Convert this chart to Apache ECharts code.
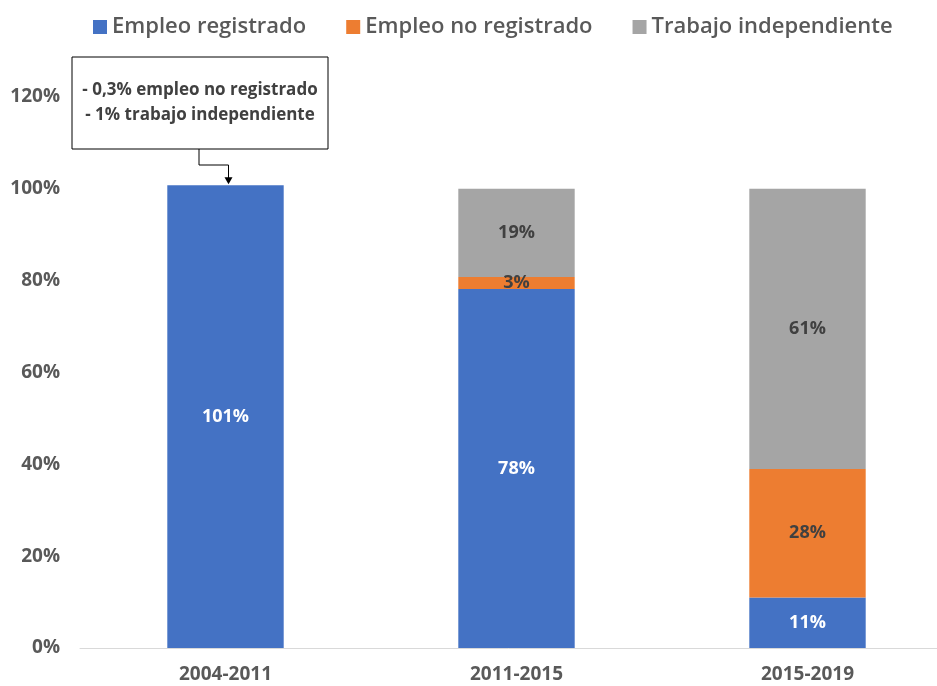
<!DOCTYPE html>
<html>
<head>
<meta charset="utf-8">
<script src="https://cdn.jsdelivr.net/npm/echarts@6/dist/echarts.min.js"></script>
<style>
html,body{margin:0;padding:0;background:#fff;}
#chart{width:937px;height:686px;}
</style>
</head>
<body>
<div id="chart"></div>
<script>
// periodos y aportes al crecimiento del empleo (%)
var periodos = ['2004-2011', '2011-2015', '2015-2019'];
var empleoRegistrado = [100.8, 78.2, 11];
var empleoNoRegistrado = [null, 2.6, 28];
var trabajoIndependiente = [null, 19.2, 61];
var ejeY = [0, 20, 40, 60, 80, 100, 120];
var nota = ['- 0,3% empleo no registrado', '- 1% trabajo independiente'];

var fuente = 'Open Sans';
var myChart = echarts.init(document.getElementById('chart'));

function etiqueta(color){
	return {
		show: true,
		position: 'inside',
		color: color,
		fontFamily: fuente,
		fontWeight: 'bold',
		fontSize: 18,
		formatter: function(p){ return Math.round(p.value) + '%'; }
	};
}

var option = {
	animation: false,
	color: ['#4472C4', '#ED7D31', '#A5A5A5'],
	legend: {
		top: 11,
		left: 88,
		itemWidth: 14,
		itemHeight: 14,
		itemGap: 40,
		icon: 'rect',
		textStyle: {
			color: '#595959',
			fontFamily: fuente,
			fontSize: 22,
			fontWeight: 600
		},
		data: ['Empleo registrado', 'Empleo no registrado', 'Trabajo independiente']
	},
	grid: {
		left: 80,
		top: 97,
		bottom: 38,
		width: 873,
		outerBoundsMode: 'none'
	},
	xAxis: {
		type: 'category',
		data: periodos,
		axisTick: {show: false},
		axisLine: {lineStyle: {color: '#d9d9d9', width: 1}},
		axisLabel: {
			color: '#595959',
			fontFamily: fuente,
			fontWeight: 'bold',
			fontSize: 19,
			margin: 17
		}
	},
	yAxis: {
		type: 'value',
		min: ejeY[0],
		max: ejeY[ejeY.length - 1],
		interval: ejeY[1] - ejeY[0],
		splitLine: {show: false},
		axisLine: {show: false},
		axisTick: {show: false},
		axisLabel: {
			color: '#595959',
			fontFamily: fuente,
			fontWeight: 'bold',
			fontSize: 19,
			margin: 20,
			formatter: '{value}%'
		}
	},
	series: [
		{
			name: 'Empleo registrado',
			type: 'bar',
			stack: 'total',
			barWidth: '40%',
			data: empleoRegistrado,
			label: etiqueta('#ffffff')
		},
		{
			name: 'Empleo no registrado',
			type: 'bar',
			stack: 'total',
			data: empleoNoRegistrado,
			label: etiqueta('#404040')
		},
		{
			name: 'Trabajo independiente',
			type: 'bar',
			stack: 'total',
			data: trabajoIndependiente,
			label: etiqueta('#404040')
		}
	]
};
myChart.setOption(option);

// recuadro con la nota y flecha hacia la primera barra
var tope = myChart.convertToPixel({gridIndex: 0}, [0, empleoRegistrado[0]]);
var caja = {x: 72, y: 57, w: 256, h: 92};
var xSal = 199, yCodo = 165;
myChart.setOption({
	graphic: [
		{
			type: 'rect',
			shape: {x: caja.x, y: caja.y, width: caja.w, height: caja.h},
			style: {fill: '#fff', stroke: '#000', lineWidth: 1}
		},
		{
			type: 'text',
			x: caja.x + caja.w / 2,
			y: caja.y + caja.h / 2,
			style: {
				text: nota.join('\n'),
				align: 'center',
				verticalAlign: 'middle',
				fill: '#404040',
				font: 'bold 17px "Open Sans"',
				lineHeight: 25
			}
		},
		{
			type: 'polyline',
			shape: {points: [[xSal, caja.y + caja.h], [xSal, yCodo], [tope[0] + 3, yCodo], [tope[0] + 3, tope[1] - 7]]},
			style: {stroke: '#000', lineWidth: 1, fill: null}
		},
		{
			type: 'polygon',
			shape: {points: [[tope[0] - 1, tope[1] - 8], [tope[0] + 7, tope[1] - 8], [tope[0] + 3, tope[1] - 1]]},
			style: {fill: '#000'}
		}
	]
});
</script>
</body>
</html>
